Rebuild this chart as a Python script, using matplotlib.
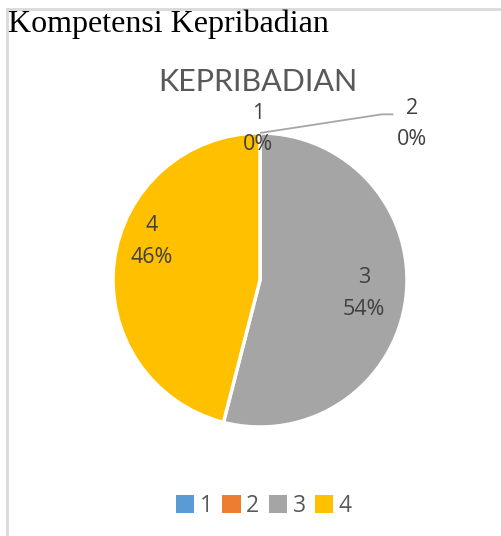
import numpy as np
import matplotlib.pyplot as plt
from matplotlib.patches import Patch

# data
categories = ['1', '2', '3', '4']
values = [0, 0, 54, 46]
colors = ['#5B9BD5', '#ED7D31', '#A5A5A5', '#FFC000']

fig = plt.figure(figsize=(5.02, 5.36), dpi=100)

# outer frame lines (top and left only)
fig.add_artist(plt.Line2D([6.5 / 502, 1], [1 - 8.5 / 536] * 2, color='#D9D9D9', lw=2))
fig.add_artist(plt.Line2D([6.5 / 502] * 2, [0, 1 - 8.5 / 536], color='#D9D9D9', lw=2))

fig.text(8 / 502, 1 - 24 / 536, 'Kompetensi Kepribadian', family='Liberation Serif',
         fontsize=23, va='center', ha='left', color='black')
fig.text(258 / 502, 1 - 82 / 536, 'KEPRIBADIAN', family='Lato', fontsize=22,
         va='center', ha='center', color='#595959')

cx, cy, r = 260, 280, 147
ax = fig.add_axes([(cx - r) / 502, (536 - cy - r) / 536, 2 * r / 502, 2 * r / 536])
wedges, _ = ax.pie(values, colors=colors, startangle=90, counterclock=False,
                   radius=1, wedgeprops=dict(edgecolor='white', linewidth=2.5))
ax.set_xlim(-1, 1)
ax.set_ylim(-1, 1)
ax.set_aspect('equal')
ax.axis('off')

# label placement (data coords of the pie axes)
label_pos = {'1': (-0.014, 1.027), '2': (1.034, 1.061), '3': (0.707, -0.092), '4': (-0.735, 0.262)}

total = sum(values)
lab_kw = dict(family='Open Sans', fontsize=15.5, color='#404040', ha='center', va='center',
              linespacing=1.65, clip_on=False)
for w, cat, v in zip(wedges, categories, values):
    txt = f'{cat}\n{v / total * 100:.0f}%'
    x, y = label_pos[cat]
    ax.text(x, y, txt, **lab_kw)

# leader line for label 2
tip = np.deg2rad(wedges[1].theta1)
ax.plot([np.cos(tip), 0.828, 0.907], [np.sin(tip), 1.127, 1.127],
        color='#A6A6A6', lw=1.3, clip_on=False, solid_capstyle='butt')

handles = [Patch(facecolor=c, label=l) for c, l in zip(colors, categories)]
fig.legend(handles=handles, loc='center', bbox_to_anchor=(264 / 502, 1 - 506 / 536),
           ncol=4, frameon=False, handlelength=0.8, handleheight=0.8, handletextpad=0.25,
           columnspacing=0.4, prop=dict(family='Open Sans', size=16.5), labelcolor='#595959')

fig.savefig('out.png', dpi=100)
